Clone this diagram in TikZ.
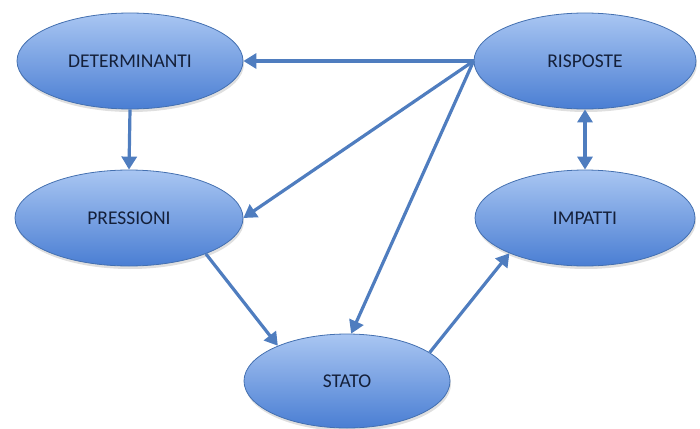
\documentclass[tikz,border=0pt]{standalone}
\usepackage{fontspec}
\setmainfont{Carlito}
\usetikzlibrary{arrows.meta,shapes.geometric,shadows}
\definecolor{elltop}{HTML}{A9C6F2}
\definecolor{ellbot}{HTML}{4A7ED3}
\definecolor{elledge}{HTML}{4470B0}
\definecolor{arr}{HTML}{4F7DBF}
\definecolor{txt}{HTML}{14203A}
\tikzset{
  ell/.style={ellipse, draw=elledge, line width=0.8pt, top color=elltop, bottom color=ellbot,
    minimum width=#1, minimum height=96pt, inner sep=0pt, font=\fontsize{19.5}{22}\selectfont, text=txt,
    drop shadow={opacity=0.25, shadow xshift=1pt, shadow yshift=-3pt}},
  conn/.style={draw=arr, line width=3.2pt, -{Triangle[length=13pt,width=15pt]}},
  conn2/.style={draw=arr, line width=3.2pt, {Triangle[length=13pt,width=15pt]}-{Triangle[length=13pt,width=15pt]}}
}
\begin{document}
\begin{tikzpicture}[x=1pt,y=-1pt]
\useasboundingbox (0,0) rectangle (700,428);
\node[ell=226pt] (det) at (130,61) {DETERMINANTI};
\node[ell=222pt] (ris) at (585,61) {RISPOSTE};
\node[ell=228pt] (pre) at (129,218) {PRESSIONI};
\node[ell=220pt] (imp) at (585,218) {IMPATTI};
\node[ell=206pt, minimum height=94pt] (sta) at (347,381) {STATO};
\coordinate (rl) at (ris.west);
\draw[conn] (rl) -- (det.east);
\draw[conn] (rl) -- (pre.east);
\draw[conn] (rl) -- (sta.85);
\draw[conn] (det.south) -- (pre.north);
\draw[conn] (pre.-25) -- (sta.153);
\draw[conn] (sta.19) -- (imp.-155);
\draw[conn2] (ris.south) -- (imp.north);
\end{tikzpicture}
\end{document}
